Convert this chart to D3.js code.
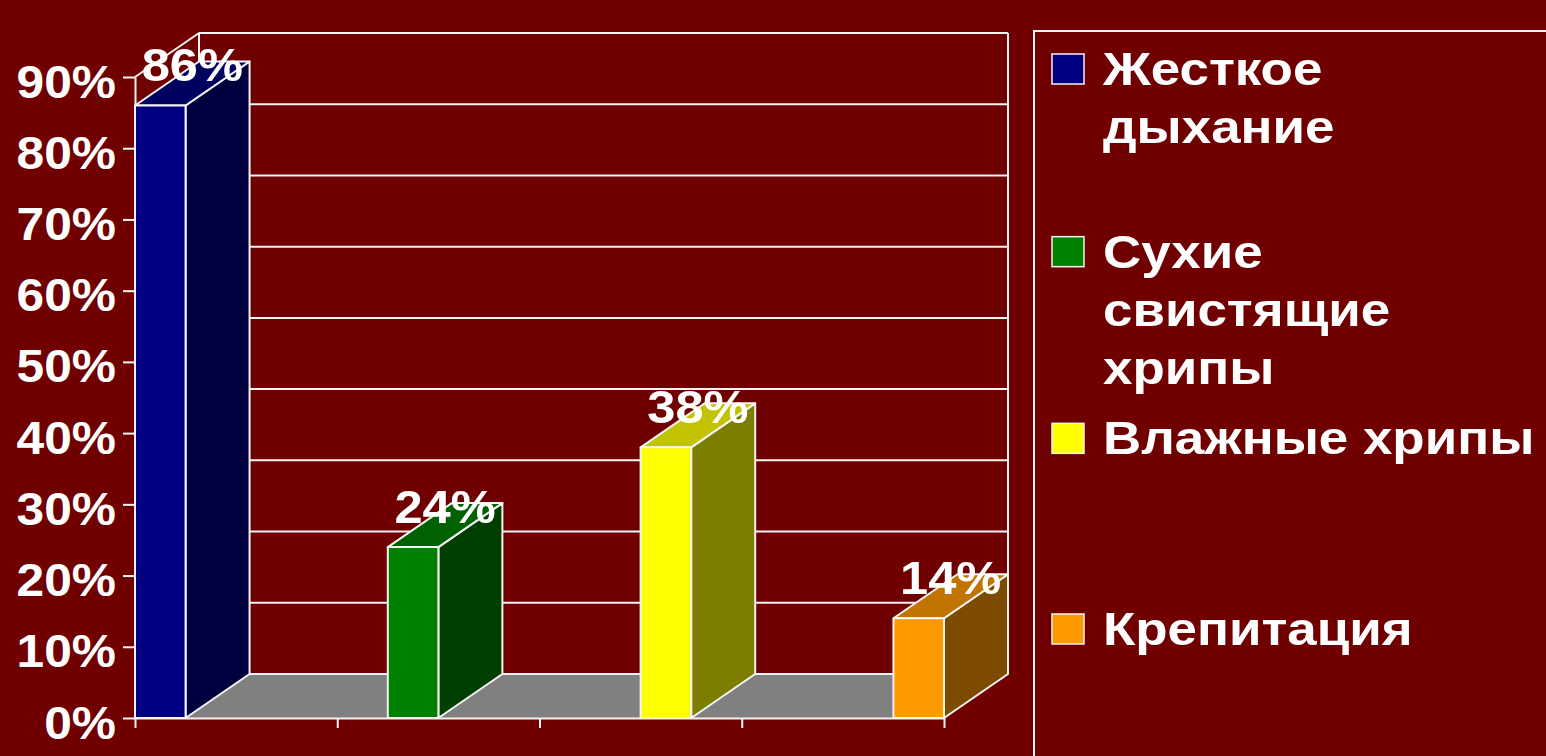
<!DOCTYPE html>
<html>
<head>
<meta charset="utf-8">
<script src="https://cdn.jsdelivr.net/npm/d3@7"></script>
<style>
  html, body { margin: 0; padding: 0; background: #700000; }
  svg { display: block; }
  text { font-family: "Liberation Sans", Arial, sans-serif; font-weight: bold; fill: #fff; }
</style>
</head>
<body>
<svg id="chart" width="1546" height="756"></svg>
<script>
const categories = ["Жесткое дыхание", "Сухие свистящие хрипы", "Влажные хрипы", "Крепитация"];
const values = [86, 24, 38, 14];
const colors = ["#000080", "#008000", "#ffff00", "#ff9900"];
const legendLines = [["Жесткое", "дыхание"], ["Сухие", "свистящие", "хрипы"], ["Влажные хрипы"], ["Крепитация"]];
const yTicks = [0, 10, 20, 30, 40, 50, 60, 70, 80, 90];

const PLOT = { left: 135, right: 944, top: 77, bottom: 718 };
const DEPTH = { dx: 64, dy: -44 };
const LINE = "#f4f4f4";
// the source slide is stretched sideways a little
const STRETCH = { axis: 1.08, value: 1.1, legend: 1.15 };

const svg = d3.select("#chart");

const y = d3.scaleLinear().domain([0, 90]).range([PLOT.bottom, PLOT.top]);
const x = d3.scaleBand().domain(categories).range([PLOT.left, PLOT.right]).padding(0);
const slot = d3.scaleBand().domain(d3.range(categories.length)).range([0, x.bandwidth()]).padding(0);

const poly = (pts) => pts.map((p) => p[0] + "," + p[1]).join(" ");

// floor
svg.append("polygon")
  .attr("points", poly([
    [PLOT.left, PLOT.bottom],
    [PLOT.right, PLOT.bottom],
    [PLOT.right + DEPTH.dx, PLOT.bottom + DEPTH.dy],
    [PLOT.left + DEPTH.dx, PLOT.bottom + DEPTH.dy],
  ]))
  .attr("fill", "#808080");

// back wall grid lines
const wall = svg.append("g").attr("stroke", LINE).attr("stroke-width", 2).attr("fill", "none");

wall.selectAll(".grid")
  .data(yTicks)
  .join("line")
  .attr("x1", PLOT.left + DEPTH.dx)
  .attr("x2", PLOT.right + DEPTH.dx)
  .attr("y1", (d) => y(d) + DEPTH.dy)
  .attr("y2", (d) => y(d) + DEPTH.dy);

wall.append("line")
  .attr("x1", PLOT.left + DEPTH.dx).attr("x2", PLOT.left + DEPTH.dx)
  .attr("y1", y(90) + DEPTH.dy).attr("y2", y(0) + DEPTH.dy);

wall.append("line")
  .attr("x1", PLOT.right + DEPTH.dx).attr("x2", PLOT.right + DEPTH.dx)
  .attr("y1", y(90) + DEPTH.dy).attr("y2", y(0) + DEPTH.dy);

// side wall top edge
wall.append("line")
  .attr("x1", PLOT.left).attr("y1", y(90))
  .attr("x2", PLOT.left + DEPTH.dx).attr("y2", y(90) + DEPTH.dy);

// axes
const yAxis = d3.axisLeft(y).tickValues(yTicks).tickSize(12).tickSizeOuter(0).tickFormat((d) => d + "%");
const gy = svg.append("g").attr("transform", `translate(${PLOT.left},0)`).call(yAxis);
gy.select(".domain").attr("stroke", LINE).attr("stroke-width", 2);
gy.selectAll(".tick line").attr("stroke", LINE).attr("stroke-width", 2);
gy.selectAll(".tick text")
  .attr("x", 0)
  .attr("dy", 0)
  .attr("transform", `translate(-19,20) scale(${STRETCH.axis},1)`)
  .attr("fill", "#fff")
  .style("font-size", "46px")
  .style("font-family", '"Liberation Sans", Arial, sans-serif')
  .style("font-weight", "bold");

const xTickScale = d3.scaleLinear().domain([0, categories.length]).range([PLOT.left, PLOT.right]);
const xAxis = d3.axisBottom(xTickScale).tickValues(d3.range(categories.length + 1)).tickSize(10).tickSizeOuter(0).tickFormat("");
const gx = svg.append("g").attr("transform", `translate(0,${PLOT.bottom})`).call(xAxis);
gx.select(".domain").attr("stroke", LINE).attr("stroke-width", 2);
gx.selectAll(".tick line").attr("stroke", LINE).attr("stroke-width", 2);

// floor back edge
svg.append("line")
  .attr("x1", PLOT.left + DEPTH.dx).attr("x2", PLOT.right + DEPTH.dx)
  .attr("y1", y(0) + DEPTH.dy).attr("y2", y(0) + DEPTH.dy)
  .attr("stroke", LINE).attr("stroke-width", 2);

// bars
const barData = values.map((v, i) => ({ v, i, cat: categories[i] }));

const bars = svg.append("g")
  .selectAll(".bar")
  .data(barData)
  .join("g")
  .attr("class", "bar")
  .attr("stroke", LINE)
  .attr("stroke-width", 2)
  .attr("stroke-linejoin", "round");

const x0 = (d) => x(d.cat) + slot(d.i);
const x1 = (d) => x0(d) + slot.bandwidth();

bars.append("polygon")
  .attr("points", (d) => poly([
    [x1(d), y(0)],
    [x1(d) + DEPTH.dx, y(0) + DEPTH.dy],
    [x1(d) + DEPTH.dx, y(d.v) + DEPTH.dy],
    [x1(d), y(d.v)],
  ]))
  .attr("fill", (d) => d3.rgb(colors[d.i]).darker(2).formatHex());

bars.append("polygon")
  .attr("points", (d) => poly([
    [x0(d), y(d.v)],
    [x1(d), y(d.v)],
    [x1(d) + DEPTH.dx, y(d.v) + DEPTH.dy],
    [x0(d) + DEPTH.dx, y(d.v) + DEPTH.dy],
  ]))
  .attr("fill", (d) => {
    const c = d3.rgb(colors[d.i]);
    return d3.rgb(c.r * 0.76, c.g * 0.76, c.b * 0.76).formatHex();
  });

bars.append("rect")
  .attr("x", x0)
  .attr("y", (d) => y(d.v))
  .attr("width", slot.bandwidth())
  .attr("height", (d) => y(0) - y(d.v))
  .attr("fill", (d) => colors[d.i]);

// value labels
svg.append("g")
  .selectAll(".value")
  .data(barData)
  .join("text")
  .attr("class", "value")
  .attr("transform", (d) =>
    `translate(${x0(d) + slot.bandwidth() / 2 + DEPTH.dx / 2},${y(d.v) - 24}) scale(${STRETCH.value},1)`)
  .attr("text-anchor", "middle")
  .style("font-size", "46px")
  .text((d) => d.v + "%");

// legend
const legend = svg.append("g");
legend.append("rect")
  .attr("x", 1034).attr("y", 31)
  .attr("width", 600).attr("height", 800)
  .attr("fill", "none")
  .attr("stroke", LINE).attr("stroke-width", 2);

const ly = d3.scalePoint().domain(categories).range([85, 645]);

const items = legend.selectAll(".item")
  .data(categories.map((c, i) => ({ c, i })))
  .join("g")
  .attr("class", "item")
  .attr("transform", (d) => `translate(1052,${ly(d.c) - (d.i === 1 || d.i === 2 ? 4 : 0)})`);

items.append("rect")
  .attr("x", 0).attr("y", -31)
  .attr("width", 32).attr("height", 30)
  .attr("fill", (d) => colors[d.i])
  .attr("stroke", LINE).attr("stroke-width", 1.5);

items.append("text")
  .attr("transform", `translate(51,0) scale(${STRETCH.legend},1)`)
  .style("font-size", "46px")
  .selectAll("tspan")
  .data((d) => legendLines[d.i])
  .join("tspan")
  .attr("x", 0)
  .attr("dy", (d, j) => (j === 0 ? 0 : 58))
  .text((d) => d);
</script>
</body>
</html>
